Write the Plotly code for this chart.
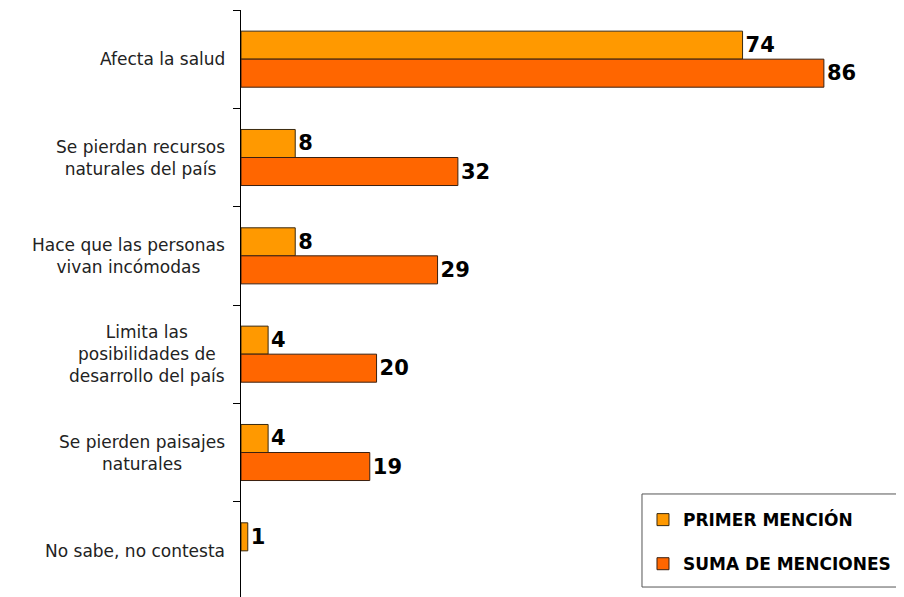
import plotly.graph_objects as go

categories = [
    "Afecta la salud",
    "Se pierdan recursos<br>naturales del país",
    "Hace que las personas<br>vivan incómodas",
    "Limita las<br>posibilidades de<br>desarrollo del país",
    "Se pierden paisajes<br>naturales",
    "No sabe, no contesta",
]
primer_mencion = [74, 8, 8, 4, 4, 1]
suma_menciones = [86, 32, 29, 20, 19, None]

label_font = dict(family="DejaVu Sans", size=21, color="#000000", weight="bold")

fig = go.Figure()
fig.add_trace(go.Bar(
    y=categories, x=primer_mencion, orientation="h", name="PRIMER MENCIÓN",
    marker=dict(color="#FF9900", line=dict(color="#3a2a10", width=1)),
    text=[str(v) for v in primer_mencion], textposition="outside",
    textfont=label_font, legendgroup="a", cliponaxis=False,
))
fig.add_trace(go.Bar(
    y=categories, x=suma_menciones, orientation="h", name="SUMA DE MENCIONES",
    marker=dict(color="#FF6600", line=dict(color="#3a2010", width=1)),
    text=[("" if v is None else str(v)) for v in suma_menciones], textposition="outside",
    textfont=label_font, legendgroup="b", cliponaxis=False,
))

# category labels, centred as blocks to the left of the axis
annotations = [
    dict(text=c, x=-0.0205, xref="paper", y=c, yref="y", xanchor="right",
         yanchor="middle", align="center", showarrow=False,
         font=dict(family="DejaVu Sans", size=17, color="#222222"))
    for c in categories
]

fig.update_layout(
    width=904, height=597,
    margin=dict(l=233, r=0, t=2, b=5, autoexpand=False),
    paper_bgcolor="white", plot_bgcolor="white",
    barmode="group", bargap=0.43, bargroupgap=0,
    font=dict(family="DejaVu Sans", color="#000000"),
    xaxis=dict(range=[0, 99.0], visible=False, showgrid=False, zeroline=False),
    yaxis=dict(
        autorange="reversed", showline=True, linecolor="#000000", linewidth=1,
        ticks="outside", ticklen=7, tickcolor="#000000", tickson="boundaries",
        showticklabels=False,
        showgrid=False, zeroline=False, automargin=False,
    ),
    legend=dict(
        x=0.5991, y=0.166, xanchor="left", yanchor="top",
        borderwidth=0, bgcolor="rgba(0,0,0,0)",
        font=dict(family="DejaVu Sans", size=17, color="#000000", weight="bold"),
        traceorder="grouped", tracegroupgap=19,
        itemwidth=30,
    ),
    annotations=annotations,
    shapes=[dict(
        type="rect", xref="paper", yref="paper",
        x0=0.5976, x1=0.9806, y0=0.022, y1=0.1797,
        line=dict(color="#555555", width=1), fillcolor="rgba(0,0,0,0)", layer="below",
    )],
)
fig.write_html("out.html")
